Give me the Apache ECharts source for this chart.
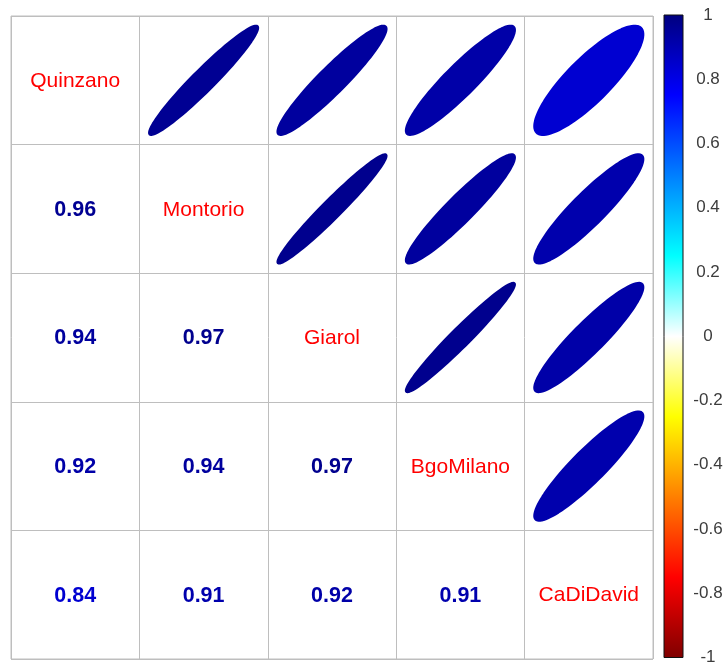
<!DOCTYPE html>
<html>
<head>
<meta charset="utf-8">
<script src="https://cdn.jsdelivr.net/npm/echarts@6/dist/echarts.min.js"></script>
<style>
  html, body { margin: 0; padding: 0; background: #fff; }
  #chart { width: 727px; height: 666px; }
</style>
</head>
<body>
<div id="chart"></div>
<script>
// Station names, in matrix order
const stations = ['Quinzano', 'Montorio', 'Giarol', 'BgoMilano', 'CaDiDavid'];

// Lower-triangle pairs (row index > column index) and their correlations
const pairRow = [1, 2, 2, 3, 3, 3, 4, 4, 4, 4];
const pairCol = [0, 0, 1, 0, 1, 2, 0, 1, 2, 3];
const corrValues = [0.96, 0.94, 0.97, 0.92, 0.94, 0.97, 0.84, 0.91, 0.92, 0.91];

// Colour legend tick labels
const legendTicks = ['-1', '-0.8', '-0.6', '-0.4', '-0.2', '0', '0.2', '0.4', '0.6', '0.8', '1'];

// Diverging palette from -1 to 1
const palette = ['#7F0000', '#FF0000', '#FF7F00', '#FFFF00', '#FFFFFF',
                 '#00FFFF', '#007FFF', '#0000FF', '#00007F'];

function hexToRgb(h) {
  return [parseInt(h.slice(1, 3), 16), parseInt(h.slice(3, 5), 16), parseInt(h.slice(5, 7), 16)];
}
function colorFor(v) {
  const pos = (v + 1) / 2 * (palette.length - 1);
  const i = Math.min(Math.floor(pos), palette.length - 2);
  const f = pos - i;
  const a = hexToRgb(palette[i]), b = hexToRgb(palette[i + 1]);
  const c = a.map((x, k) => Math.round(x + (b[k] - x) * f));
  return 'rgb(' + c.join(',') + ')';
}

// Upper triangle: ellipses; lower triangle: numbers
const ellipseData = corrValues.map((r, k) => [pairRow[k], pairCol[k], r]);
const numberData = corrValues.map((r, k) => [pairCol[k], pairRow[k], r]);
const nameData = stations.map((s, i) => ({ value: [i, i], name: s }));

const ELL_SCALE = 0.85;
const ELL_STEPS = 99;

const chart = echarts.init(document.getElementById('chart'), null, { renderer: 'canvas' });

const gridLine = '#BEBEBE';

chart.setOption({
  animation: false,
  backgroundColor: '#ffffff',
  grid: [
    { left: 11, top: 16, width: 642, height: 643, show: true,
      borderColor: gridLine, borderWidth: 1, backgroundColor: 'transparent' },
    { left: 664, top: 15, width: 19, height: 645 }
  ],
  xAxis: [
    { type: 'value', gridIndex: 0, min: 0, max: 5, interval: 1,
      axisLine: { show: false }, axisTick: { show: false }, axisLabel: { show: false },
      splitLine: { show: true, lineStyle: { color: gridLine, width: 1 } } },
    { type: 'value', gridIndex: 1, min: 0, max: 1, show: false }
  ],
  yAxis: [
    { type: 'value', gridIndex: 0, min: 0, max: 5, interval: 1, inverse: true,
      axisLine: { show: false }, axisTick: { show: false }, axisLabel: { show: false },
      splitLine: { show: true, lineStyle: { color: gridLine, width: 1 } } },
    { type: 'value', gridIndex: 1, min: -1, max: 1, interval: 0.2, position: 'right',
      axisLine: { show: false },
      axisTick: { show: true, inside: false, length: 4, lineStyle: { color: '#333', width: 1 } },
      splitLine: { show: false },
      axisLabel: {
        margin: 25, align: 'center', color: '#3c3c3c', fontSize: 17,
        fontFamily: 'Liberation Sans, Arial, sans-serif',
        formatter: function (v) {
          const idx = Math.round((v + 1) / 0.2);
          return legendTicks[idx];
        }
      } }
  ],
  series: [
    {
      // Colour legend bar
      type: 'custom', xAxisIndex: 1, yAxisIndex: 1, silent: true,
      data: [[0, 0]],
      renderItem: function (params, api) {
        const p1 = api.coord([0, 1]);
        const p2 = api.coord([1, -1]);
        const stops = palette.map((c, i) => ({ offset: 1 - i / (palette.length - 1), color: c }))
          .sort((a, b) => a.offset - b.offset);
        return {
          type: 'rect',
          shape: { x: p1[0], y: p1[1], width: p2[0] - p1[0], height: p2[1] - p1[1] },
          style: {
            fill: new echarts.graphic.LinearGradient(0, 0, 0, 1, stops),
            stroke: '#111', lineWidth: 1
          }
        };
      }
    },
    {
      // Correlation ellipses in the upper triangle
      type: 'custom', xAxisIndex: 0, yAxisIndex: 0, silent: true,
      data: ellipseData,
      renderItem: function (params, api) {
        const col = api.value(0), row = api.value(1), rho = api.value(2);
        const d = Math.acos(rho);
        const cx = col + 0.5, cy = row + 0.5;
        const pts = [];
        for (let i = 0; i < ELL_STEPS; i++) {
          const t = 2 * Math.PI * i / (ELL_STEPS - 1);
          const x = ELL_SCALE * Math.cos(t + d / 2) / 2;
          const y = ELL_SCALE * Math.cos(t - d / 2) / 2;
          pts.push(api.coord([cx + x, cy - y]));
        }
        const c = colorFor(rho);
        return { type: 'polygon', shape: { points: pts },
                 style: { fill: c, stroke: c, lineWidth: 2, lineJoin: 'round' } };
      }
    },
    {
      // Correlation coefficients in the lower triangle
      type: 'custom', xAxisIndex: 0, yAxisIndex: 0, silent: true,
      data: numberData,
      renderItem: function (params, api) {
        const p = api.coord([api.value(0) + 0.5, api.value(1) + 0.5]);
        const rho = api.value(2);
        return {
          type: 'text', x: p[0], y: p[1] + 1,
          style: {
            text: rho.toFixed(2), fill: colorFor(rho),
            font: 'bold 21.5px "Liberation Sans", Arial, sans-serif',
            textAlign: 'center', textVerticalAlign: 'middle'
          }
        };
      }
    },
    {
      // Station names on the diagonal
      type: 'custom', xAxisIndex: 0, yAxisIndex: 0, silent: true,
      data: nameData,
      renderItem: function (params, api) {
        const p = api.coord([api.value(0) + 0.5, api.value(1) + 0.5]);
        return {
          type: 'text', x: p[0], y: p[1] + 1,
          style: {
            text: stations[params.dataIndex], fill: '#FF0000',
            font: '21px "Liberation Sans", Arial, sans-serif',
            textAlign: 'center', textVerticalAlign: 'middle'
          }
        };
      }
    }
  ]
});
</script>
</body>
</html>
